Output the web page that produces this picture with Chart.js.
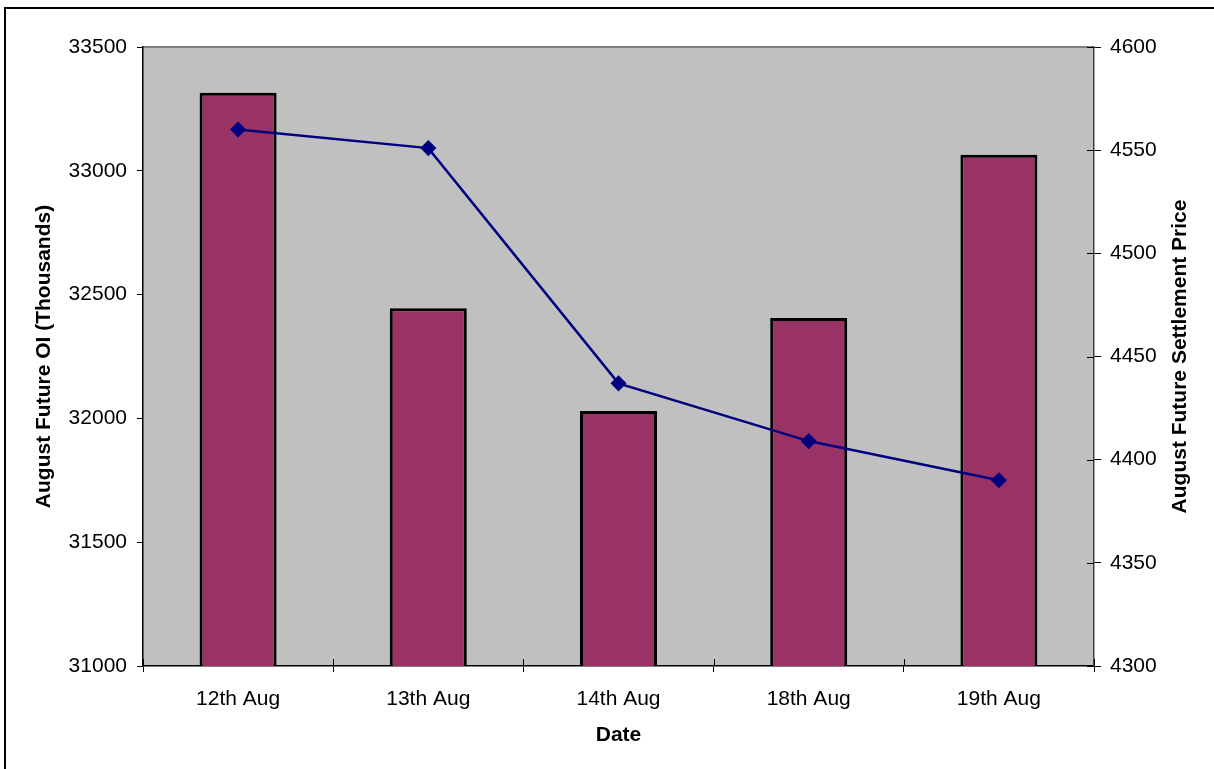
<!DOCTYPE html>
<html>
<head>
<meta charset="utf-8">
<script src="https://cdn.jsdelivr.net/npm/chart.js@4/dist/chart.umd.min.js"></script>
<style>
  body { margin: 0; background: #fff; }
  #wrap { width: 1214px; height: 769px; }
</style>
</head>
<body>
<div id="wrap"><canvas id="grafico" width="1214" height="769"></canvas></div>
<script>
const datas = ["12th Aug", "13th Aug", "14th Aug", "18th Aug", "19th Aug"];
const openInterest = [33315, 32445, 32030, 32405, 33065];
const settlementPrice = [4560, 4551, 4437, 4409, 4390];

const tituloDireita = "August Future Settlement Price";

const fonte = { family: "'Liberation Sans', Arial, sans-serif", size: 21 };
const fonteTitulo = { family: "'Liberation Sans', Arial, sans-serif", size: 21, weight: "bold" };

// fundo cinza da area do grafico, moldura externa, marcas que cruzam os eixos
// e o titulo do eixo direito lido de baixo para cima
const moldura = {
    id: "moldura",
    beforeDraw(chart) {
        const { ctx, chartArea: a } = chart;
        ctx.save();
        ctx.fillStyle = "#C0C0C0";
        ctx.fillRect(a.left, a.top, a.right - a.left, a.bottom - a.top);
        ctx.strokeStyle = "#808080";
        ctx.lineWidth = 2;
        ctx.beginPath();
        ctx.moveTo(a.left, a.top);
        ctx.lineTo(a.right, a.top);
        ctx.stroke();

        ctx.strokeStyle = "#000";
        ctx.lineWidth = 2;
        ctx.beginPath();
        ctx.moveTo(5, chart.height);
        ctx.lineTo(5, 8);
        ctx.lineTo(chart.width, 8);
        ctx.stroke();
        ctx.restore();
    },
    afterDraw(chart) {
        const { ctx, chartArea: a, scales } = chart;
        ctx.save();
        ctx.strokeStyle = "#000";
        ctx.lineWidth = 1;
        const passo = (a.right - a.left) / datas.length;
        for (let i = 0; i <= datas.length; i++) {
            const x = Math.round(a.left + i * passo) + 0.5;
            ctx.beginPath();
            ctx.moveTo(x, a.bottom);
            ctx.lineTo(x, a.bottom - 7);
            ctx.stroke();
        }
        scales.y1.ticks.forEach(t => {
            const y = Math.round(scales.y1.getPixelForValue(t.value)) + 0.5;
            ctx.beginPath();
            ctx.moveTo(a.right, y);
            ctx.lineTo(a.right - 7, y);
            ctx.stroke();
        });

        ctx.translate(scales.y1.right - 34, (a.top + a.bottom) / 2);
        ctx.rotate(-Math.PI / 2);
        ctx.fillStyle = "#000";
        ctx.font = "bold 21px 'Liberation Sans', Arial, sans-serif";
        ctx.textAlign = "center";
        ctx.textBaseline = "middle";
        ctx.fillText(tituloDireita, 0, 0);
        ctx.restore();
    }
};

new Chart(document.getElementById("grafico"), {
    data: {
        labels: datas,
        datasets: [{
            type: "line",
            label: tituloDireita,
            data: settlementPrice,
            yAxisID: "y1",
            borderColor: "#000080",
            backgroundColor: "#000080",
            borderWidth: 2.5,
            pointStyle: "rectRot",
            pointRadius: 7,
            pointBorderWidth: 1.5,
            tension: 0,
            order: 0
        }, {
            type: "bar",
            label: "August Future OI (Thousands)",
            data: openInterest,
            yAxisID: "y",
            backgroundColor: "#993366",
            borderColor: "#000",
            borderWidth: 3,
            categoryPercentage: 1,
            barPercentage: 0.405,
            order: 1
        }]
    },
    options: {
        responsive: false,
        animation: false,
        layout: { padding: { top: 47 } },
        plugins: {
            legend: { display: false },
            tooltip: { enabled: false }
        },
        scales: {
            x: {
                afterFit: s => { s.height = 103; },
                grid: { drawOnChartArea: false, tickLength: 6, color: "#000", offset: true },
                border: { color: "#000", width: 1.5 },
                ticks: { color: "#000", font: fonte, padding: 15, maxRotation: 0 },
                title: { display: true, text: "Date", color: "#000", font: fonteTitulo, padding: { top: 0, bottom: 21 } }
            },
            y: {
                position: "left",
                min: 31000,
                max: 33500,
                afterFit: s => { s.width = 143; },
                grid: { drawOnChartArea: false, tickLength: 6, color: "#000" },
                border: { color: "#000", width: 1.5 },
                ticks: { stepSize: 500, color: "#000", font: fonte, padding: 10, callback: v => v },
                title: { display: true, text: "August Future OI (Thousands)", color: "#000", font: fonteTitulo, padding: { top: 32, bottom: 0 } }
            },
            y1: {
                position: "right",
                min: 4300,
                max: 4600,
                afterFit: s => { s.width = 120; },
                grid: { drawOnChartArea: false, tickLength: 7, color: "#000" },
                border: { color: "#404040", width: 1.5 },
                ticks: { stepSize: 50, color: "#000", font: fonte, padding: 9, callback: v => v },
                title: { display: false }
            }
        }
    },
    plugins: [moldura]
});
</script>
</body>
</html>
